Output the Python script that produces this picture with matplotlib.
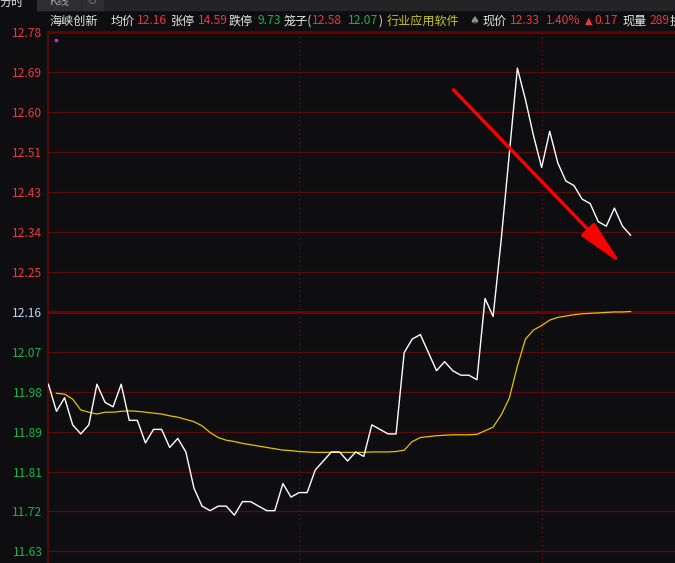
import numpy as np
import matplotlib
matplotlib.use("Agg")
import matplotlib.pyplot as plt
from matplotlib.patches import Rectangle

plt.rcParams['font.family'] = ['Noto Sans CJK SC', 'DejaVu Sans']

# minute prices (white) and average price (yellow)
price = [12.00, 11.94, 11.97, 11.91, 11.89, 11.91, 12.00, 11.96, 11.95, 12.00,
         11.92, 11.92, 11.87, 11.90, 11.90, 11.86, 11.88, 11.85, 11.77, 11.73,
         11.72, 11.73, 11.73, 11.71, 11.74, 11.74, 11.73, 11.72, 11.72, 11.78,
         11.75, 11.76, 11.76, 11.81, 11.83, 11.85, 11.85, 11.83, 11.85, 11.84,
         11.91, 11.90, 11.89, 11.89, 12.07, 12.10, 12.11, 12.07, 12.03, 12.05,
         12.03, 12.02, 12.02, 12.01, 12.19, 12.15, 12.32, 12.51, 12.70, 12.63,
         12.55, 12.48, 12.56, 12.49, 12.45, 12.44, 12.41, 12.40, 12.36, 12.35,
         12.39, 12.35, 12.33]
avg = [11.980, 11.978, 11.967, 11.943, 11.938, 11.934, 11.938, 11.938, 11.940,
       11.941, 11.940, 11.938, 11.936, 11.934, 11.930, 11.927, 11.922, 11.917,
       11.908, 11.893, 11.882, 11.876, 11.873, 11.869, 11.866, 11.863, 11.860,
       11.857, 11.854, 11.853, 11.851, 11.850, 11.849, 11.849, 11.849, 11.849,
       11.849, 11.849, 11.849, 11.850, 11.850, 11.850, 11.851, 11.854, 11.873,
       11.882, 11.884, 11.886, 11.887, 11.888, 11.888, 11.888, 11.889, 11.897,
       11.905, 11.932, 11.969, 12.040, 12.100, 12.120, 12.130, 12.142, 12.148,
       12.151, 12.154, 12.156, 12.157, 12.158, 12.159, 12.160, 12.160, 12.161]

pre_close = 12.16
up_ticks = ["12.78", "12.69", "12.60", "12.51", "12.43", "12.34", "12.25"]
down_ticks = ["12.07", "11.98", "11.89", "11.81", "11.72", "11.63"]
hour_marks = [31, 61]

BG = '#0e0e11'
GRID = '#5a0b0b'
RED = '#e8393d'
GREEN = '#19b24a'
WHITE = '#e6e6e6'

fig = plt.figure(figsize=(6.75, 5.63), dpi=100, facecolor=BG)
W, H = 675, 563
ax = fig.add_axes([48 / W, 0, 1 - 48 / W, (H - 32) / H], facecolor=BG)

up_step = (12.78 - pre_close) / len(up_ticks)
dn_step = (pre_close - 11.63) / len(down_ticks)
up_pos = [pre_close + up_step * (len(up_ticks) - k) for k in range(len(up_ticks))]
dn_pos = [pre_close - dn_step * (k + 1) for k in range(len(down_ticks))]
yticks = up_pos + [pre_close] + dn_pos
ylabels = up_ticks + ["12.16"] + down_ticks
ycolors = [RED] * len(up_ticks) + ['#b8d4f0'] + [GREEN] * len(down_ticks)

for y in yticks:
    if y == pre_close:
        ax.axhline(y, color='#700000', lw=2.2, zorder=1)
    else:
        ax.axhline(y, color=GRID, lw=0.9, zorder=1)
for xm in hour_marks:
    ax.axvline(xm, color='#6a1010', lw=0.9, ls=(0, (1, 2.5)), zorder=1)

x = np.arange(len(price))
ax.plot(x, price, color='white', lw=1.0, zorder=3)
ax.plot(np.arange(1, len(avg) + 1), avg, color='#e6c200', lw=0.9, zorder=2)

ax.annotate('', xy=(70.85, 12.266), xytext=(50.1, 12.652),
            arrowprops=dict(arrowstyle='-|>,head_length=2.8,head_width=0.55',
                            mutation_scale=10, color='#ff0000', lw=2.4,
                            shrinkA=0, shrinkB=0), zorder=4)
ax.plot([0.013], [0.985], 's', color='#e020e0', ms=2, transform=ax.transAxes)

ax.set_xlim(-0.05, (W - 47.3) / 8.1)
ax.set_ylim(pre_close - (H - 312) / 451.5, 12.78)
ax.set_xticks([])
ax.set_yticks(yticks)
ax.set_yticklabels(ylabels, fontsize=8.7)
for lab, c in zip(ax.get_yticklabels(), ycolors):
    lab.set_color(c)
ax.tick_params(axis='y', length=0, pad=4)
for s in ['top', 'right', 'bottom']:
    ax.spines[s].set_visible(False)
ax.spines['left'].set_color(GRID)
ax.spines['left'].set_linewidth(1.2)
ax.axhline(12.78, color='#6a0000', lw=2, zorder=1, clip_on=False)


def px(xp, yp):
    return xp / W, 1 - yp / H


# tab strip
fig.patches.append(Rectangle((0, 1 - 10 / H), 1, 10 / H, transform=fig.transFigure,
                             color='#242427', zorder=0))
fig.patches.append(Rectangle(px(0, 10), 36 / W, 10 / H, transform=fig.transFigure,
                             color=BG, zorder=0))
fig.patches.append(Rectangle(px(37, 10), 43 / W, 10 / H, transform=fig.transFigure,
                             color='#2e2e31', zorder=0))
fig.patches.append(Rectangle(px(82, 10), 21 / W, 10 / H, transform=fig.transFigure,
                             color='#2e2e31', zorder=0))
fig.text(*px(-1, 2), "分时", color=WHITE, fontsize=8.7, va='center', ha='left')
fig.text(*px(50, 2), "K线", color='#a0a0a0', fontsize=8.7, va='center', ha='left')
fig.text(*px(86, 2), "↻", color='#707070', fontsize=8.7, va='center', ha='left',
         family='DejaVu Sans')

header = [("海峡创新", 49, WHITE), ("均价", 111, WHITE), ("12.16", 137, RED),
          ("张停", 171, WHITE), ("14.59", 198, RED), ("跌停", 229, WHITE),
          ("9.73", 257, GREEN), ("笼子(", 284, WHITE), ("12.58", 312, RED),
          ("12.07", 348, GREEN), (")", 379, WHITE), ("行业应用软件", 387, '#c8c41e'),
          ("现价", 483, WHITE), ("12.33", 510, RED), ("1.40%", 546, RED),
          ("0.17", 594, RED), ("现量", 623, WHITE), ("289", 649, RED),
          ("换手", 670, WHITE)]
for txt, xp, c in header:
    fig.text(*px(xp, 21), txt, color=c, fontsize=8.7, va='center', ha='left')
fig.text(*px(585, 21), "▲", color=RED, fontsize=7, va='center', ha='left',
         family='DejaVu Sans')
fig.text(*px(469, 21), "♠", color='#909090', fontsize=8, va='center', ha='left',
         family='DejaVu Sans')

fig.savefig("out.png", dpi=100, facecolor=BG)
